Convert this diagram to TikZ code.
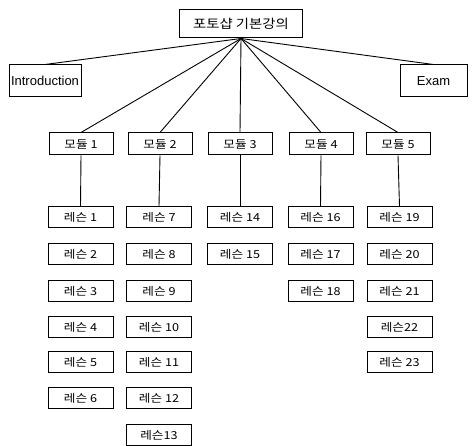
\documentclass[tikz,border=0pt]{standalone}
\usepackage{fontspec}
\setmainfont{Liberation Sans}
\newfontfamily\kr[FakeStretch=1.15]{Noto Sans CJK KR}
\usepackage{tikz}

\tikzset{
  box/.style={draw, line width=1pt, inner sep=0pt, align=center},
  rootbox/.style={box, minimum width=123pt, minimum height=28pt, font=\kr\fontsize{12.5}{13}\selectfont},
  endbox/.style={box, minimum height=32pt, font=\fontsize{13}{14}\selectfont},
  modbox/.style={box, minimum width=64pt, minimum height=22pt, font=\kr\fontsize{11}{12}\selectfont},
  lesbox/.style={box, minimum width=65pt, minimum height=21pt, font=\kr\fontsize{11}{12}\selectfont},
  link/.style={line width=0.9pt}
}

\begin{document}
\begin{tikzpicture}[x=1pt,y=-1pt]
\useasboundingbox (0,0) rectangle (472,446);
\node[rootbox] (root) at (241,24) {포토샵 기본강의};
\node[endbox, minimum width=72pt] (intro) at (45,81) {Introduction};
\node[endbox, minimum width=67pt] (exam) at (433.5,81) {Exam};
% modules
\foreach \m/\x in {1/81,2/160,3/240,4/321,5/398}
  \node[modbox] (mod\m) at (\x,144) {모듈 \m};
% lessons: number / column x / row y / text
\foreach \n/\x/\y/\t in {
  1/80.5/217/{레슨 1}, 2/80.5/254/{레슨 2}, 3/80.5/291/{레슨 3},
  4/80.5/327/{레슨 4}, 5/80.5/362/{레슨 5}, 6/80.5/398/{레슨 6},
  7/159/217/{레슨 7}, 8/159/254/{레슨 8}, 9/159/291/{레슨 9},
  10/159/327/{레슨 10}, 11/159/362/{레슨 11}, 12/159/398/{레슨 12},
  13/159/435/{레슨13},
  14/240/217/{레슨 14}, 15/240/254/{레슨 15},
  16/320.5/217/{레슨 16}, 17/320.5/254/{레슨 17}, 18/320.5/291/{레슨 18},
  19/399.5/217/{레슨 19}, 20/399.5/254/{레슨 20}, 21/399.5/291/{레슨 21},
  22/399.5/327/{레슨22}, 23/399.5/362/{레슨 23}}
  \node[lesbox] (les\n) at (\x,\y) {\t};
% connectors
\draw[link] (root.south) -- (intro.north);
\draw[link] (root.south) -- (exam.north);
\foreach \m in {1,...,5}
  \draw[link] (root.south) -- (mod\m.north);
\foreach \m/\l in {1/1,2/7,3/14,4/16,5/19}
  \draw[link] (mod\m.south) -- (les\l.north);
\end{tikzpicture}
\end{document}
